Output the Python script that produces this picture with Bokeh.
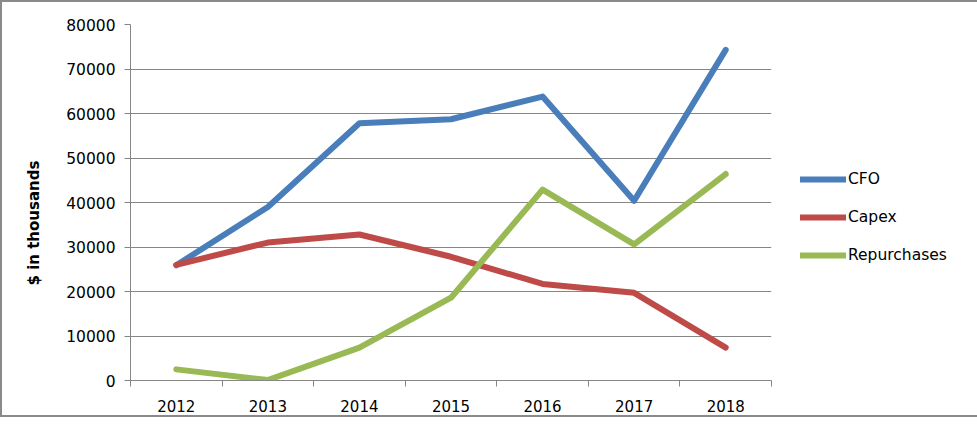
from bokeh.plotting import figure
from bokeh.models import FixedTicker, Legend, LegendItem, Range1d, Title
from bokeh.embed import file_html
from bokeh.resources import INLINE

years = ["2012", "2013", "2014", "2015", "2016", "2017", "2018"]
cfo = [25900, 39000, 57800, 58700, 63800, 40400, 74300]
capex = [26000, 31000, 32800, 27800, 21700, 19700, 7400]
repurchases = [2500, 100, 7400, 18600, 42900, 30600, 46400]
y_ticks = [0, 10000, 20000, 30000, 40000, 50000, 60000, 70000, 80000]

xs = [i + 0.5 for i in range(len(years))]
bounds = list(range(len(years) + 1))

FONT = "DejaVu Sans"
GRID = "#868686"

p = figure(width=957, height=413, frame_width=641, frame_height=356,
           min_border_left=128, min_border_top=22, min_border_right=188, min_border_bottom=35,
           output_backend="svg", toolbar_location=None,
           x_range=Range1d(0, len(years)), y_range=Range1d(0, 80000))
p.outline_line_color = None
p.background_fill_color = "white"
p.border_fill_color = "white"
p.styles = {"border": "2px solid #8a8a8a"}

# x axis: labels at centers, tick marks at category boundaries
p.xaxis.ticker = FixedTicker(ticks=xs, minor_ticks=bounds)
p.xaxis.major_label_overrides = {x: y for x, y in zip(xs, years)}
p.xaxis.major_tick_out = 0
p.xaxis.major_tick_in = 0
p.xaxis.minor_tick_out = 6
p.xaxis.minor_tick_in = 0
p.xaxis.minor_tick_line_color = GRID
p.xaxis.axis_line_color = GRID
p.xaxis.major_label_text_font = FONT
p.xaxis.major_label_text_font_size = "15px"
p.xaxis.major_label_text_color = "black"
p.xaxis.major_label_standoff = 13
p.xgrid.visible = False

p.yaxis.ticker = FixedTicker(ticks=y_ticks)
p.yaxis.minor_tick_line_color = None
p.yaxis.major_tick_out = 6
p.yaxis.major_tick_in = 0
p.yaxis.major_tick_line_color = GRID
p.yaxis.axis_line_color = GRID
p.yaxis.major_label_text_font = FONT
p.yaxis.major_label_text_font_size = "15.5px"
p.yaxis.major_label_text_color = "black"
p.yaxis.major_label_standoff = 9
p.yaxis.formatter.use_scientific = False
p.ygrid.grid_line_color = GRID
p.ygrid.grid_line_width = 1
p.ygrid.grid_line_alpha = 1

ylabel = Title(text="$ in thousands", align="left", offset=95,
               text_font=FONT, text_font_size="15px", text_font_style="bold",
               text_color="black", standoff=41)
p.add_layout(ylabel, "left")

r1 = p.line(xs, cfo, line_color="#4A7EBB", line_width=6, line_cap="round", line_join="round")
r2 = p.line(xs, capex, line_color="#BE4B48", line_width=6, line_cap="round", line_join="round")
r3 = p.line(xs, repurchases, line_color="#98B954", line_width=6, line_cap="round", line_join="round")

legend = Legend(items=[LegendItem(label="CFO", renderers=[r1]),
                       LegendItem(label="Capex", renderers=[r2]),
                       LegendItem(label="Repurchases", renderers=[r3])],
                location=(29, 115), orientation="vertical",
                glyph_width=46, glyph_height=20, label_height=20, spacing=18,
                label_standoff=2, padding=0, margin=0,
                border_line_color=None, background_fill_alpha=0,
                label_text_font=FONT, label_text_font_size="15.5px", label_text_color="black")
p.add_layout(legend, "right")

open("out.html", "w").write(file_html(p, INLINE))
